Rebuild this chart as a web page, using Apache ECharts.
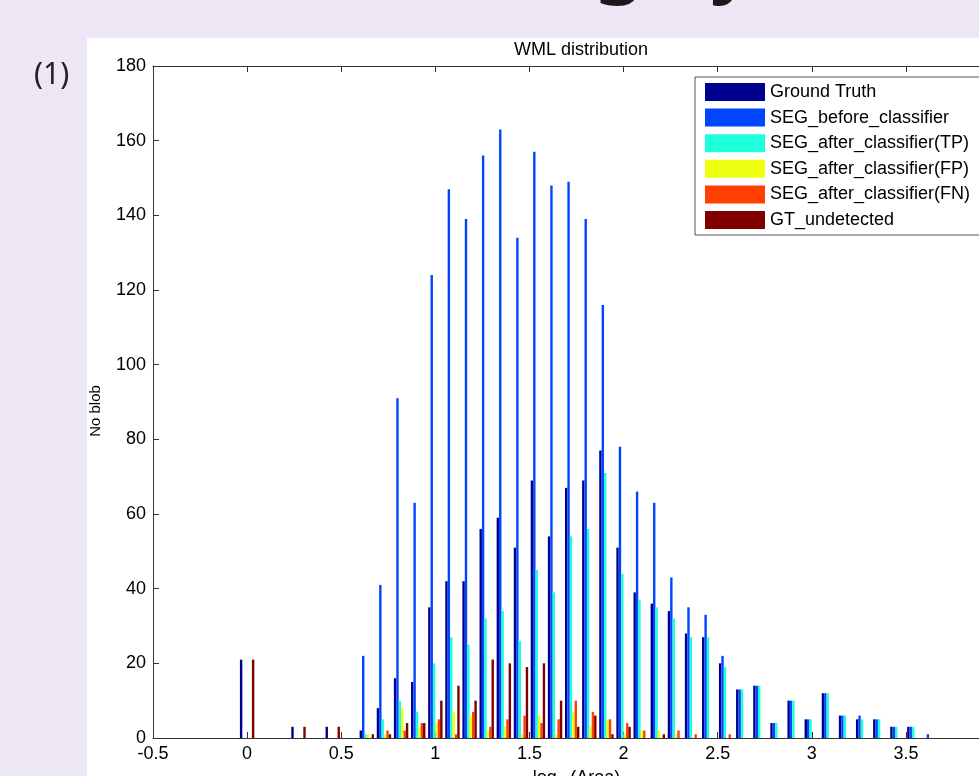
<!DOCTYPE html>
<html>
<head>
<meta charset="utf-8">
<script src="https://cdn.jsdelivr.net/npm/echarts@6/dist/echarts.min.js"></script>
<style>
html, body { margin: 0; padding: 0; background: #ECE6F5; }
#main { width: 979px; height: 776px; }
</style>
</head>
<body>
<div id="main"></div>
<script>
// bin centres of the log10(Area) histogram
var binCenters = [0, 0.091, 0.182, 0.273, 0.364, 0.455, 0.545, 0.636, 0.727, 0.818,
	0.909, 1.0, 1.091, 1.182, 1.273, 1.364, 1.455, 1.545, 1.636, 1.727,
	1.818, 1.909, 2.0, 2.091, 2.182, 2.273, 2.364, 2.455, 2.545, 2.636,
	2.727, 2.818, 2.909, 3.0, 3.091, 3.182, 3.273, 3.364, 3.455, 3.545, 3.636];

var groundTruth = [21, 0, 0, 3, 0, 3, 0, 2, 8, 16,
	15, 35, 42, 42, 56, 59, 51, 69, 54, 67,
	69, 77, 51, 39, 36, 34, 28, 27, 20, 13,
	14, 4, 10, 5, 12, 6, 5, 5, 3, 3, 0];
var segBefore = [0, 0, 0, 0, 0, 0, 0, 22, 41, 91,
	63, 124, 147, 139, 156, 163, 134, 157, 148, 149,
	139, 116, 78, 66, 63, 43, 35, 33, 22, 13,
	14, 4, 10, 5, 12, 6, 6, 5, 3, 3, 1];
var segAfterTP = [0, 0, 0, 0, 0, 0, 0, 1, 5, 10,
	7, 20, 27, 25, 32, 34, 26, 45, 39, 54,
	56, 71, 44, 37, 35, 32, 27, 27, 19, 13,
	14, 4, 10, 5, 12, 6, 5, 5, 3, 3, 0];
var segAfterFP = [0, 0, 0, 0, 0, 0, 0, 1, 1, 8,
	3, 4, 7, 6, 2, 3, 1, 6, 1, 7,
	3, 5, 1, 2, 2, 1, 0, 0, 0, 0,
	0, 0, 0, 0, 0, 0, 0, 0, 0, 0, 0];
var segAfterFN = [0, 0, 0, 0, 0, 0, 0, 0, 2, 2,
	4, 5, 1, 7, 3, 5, 6, 4, 5, 10,
	7, 5, 4, 2, 0, 2, 1, 0, 1, 0,
	0, 0, 0, 0, 0, 0, 0, 0, 0, 0, 0];
var gtUndetected = [21, 0, 0, 3, 0, 3, 0, 1, 1, 4,
	4, 10, 14, 10, 21, 20, 19, 20, 10, 3,
	6, 1, 3, 0, 1, 0, 0, 0, 0, 0,
	0, 0, 0, 0, 0, 0, 0, 0, 0, 0, 0];

var seriesNames = ['Ground Truth', 'SEG_before_classifier', 'SEG_after_classifier(TP)',
	'SEG_after_classifier(FP)', 'SEG_after_classifier(FN)', 'GT_undetected'];
var seriesValues = [groundTruth, segBefore, segAfterTP, segAfterFP, segAfterFN, gtUndetected];
var seriesColors = ['#00008F', '#0046FF', '#1EFFDC', '#EFFF12', '#FF4000', '#800000'];

var font = 'Liberation Sans, Arial, sans-serif';

var option = {
	animation: false,
	textStyle: { fontFamily: font },
	title: {
		text: 'WML distribution',
		left: 576,
		top: 36,
		textAlign: 'center',
		textStyle: { fontSize: 18, fontWeight: 'normal', color: '#000', fontFamily: font }
	},
	graphic: [{
		type: 'rect',
		z: -10,
		silent: true,
		shape: { x: 87, y: 38, width: 892, height: 738 },
		style: { fill: '#fff' }
	}, {
		type: 'text',
		silent: true,
		style: { text: '(1)', x: 34, y: 60, font: '30px "Noto Sans"', fill: '#222' }
	}, {
		// bottoms of the slide heading letters, cut off at the top edge
		type: 'text',
		silent: true,
		style: { text: 'g', x: 592, y: -40, verticalAlign: 'middle', font: '88px "Noto Sans"', fill: '#1a1a1a' }
	}, {
		type: 'text',
		silent: true,
		style: { text: 'y', x: 712, y: -40, verticalAlign: 'middle', font: '88px "Noto Sans"', fill: '#1a1a1a' }
	}],
	legend: {
		orient: 'vertical',
		left: 695,
		top: 77,
		padding: [6, 10, 6, 10],
		itemWidth: 60,
		itemHeight: 18,
		itemGap: 7.6,
		icon: 'rect',
		borderColor: '#555',
		borderWidth: 1,
		backgroundColor: '#fff',
		textStyle: { fontSize: 18, color: '#000', fontFamily: font },
		data: seriesNames
	},
	grid: {
		left: 153,
		top: 66,
		width: 847,
		height: 672,
		outerBoundsMode: 'none',
		containLabel: false
	},
	xAxis: [{
		type: 'value',
		min: -0.5,
		max: 4,
		interval: 0.5,
		name: 'log{sub|10}(Area)',
		nameLocation: 'middle',
		nameGap: 28,
		nameTextStyle: {
			fontSize: 18, color: '#000',
			rich: { sub: { fontSize: 12, verticalAlign: 'bottom', padding: [12, 0, 0, 0] } }
		},
		axisLine: { onZero: false, lineStyle: { color: '#333' } },
		axisTick: { inside: true, length: 6, lineStyle: { color: '#333' } },
		axisLabel: { fontSize: 18, color: '#000', margin: 7 },
		splitLine: { show: false }
	}, {
		type: 'value',
		position: 'top',
		min: -0.5,
		max: 4,
		interval: 0.5,
		axisLine: { onZero: false, lineStyle: { color: '#333' } },
		axisTick: { inside: true, length: 6, lineStyle: { color: '#333' } },
		axisLabel: { show: false },
		splitLine: { show: false }
	}],
	yAxis: {
		type: 'value',
		min: 0,
		max: 180,
		interval: 20,
		name: 'No blob',
		nameLocation: 'middle',
		nameGap: 50,
		nameTextStyle: { fontSize: 15, color: '#000', padding: [0, 18, 0, 0] },
		axisLine: { show: true, onZero: false, lineStyle: { color: '#333' } },
		axisTick: { show: true, inside: true, length: 6, lineStyle: { color: '#333' } },
		axisLabel: { fontSize: 18, color: '#000', margin: 7 },
		splitLine: { show: false }
	},
	series: seriesNames.map(function (name, i) {
		return {
			name: name,
			type: 'bar',
			xAxisIndex: 0,
			barWidth: 2.4,
			barGap: '0%',
			itemStyle: { color: seriesColors[i] },
			data: binCenters.map(function (x, j) { return [x, seriesValues[i][j]]; })
		};
	})
};

var myChart = echarts.init(document.getElementById('main'));
myChart.setOption(option);
</script>
</body>
</html>
